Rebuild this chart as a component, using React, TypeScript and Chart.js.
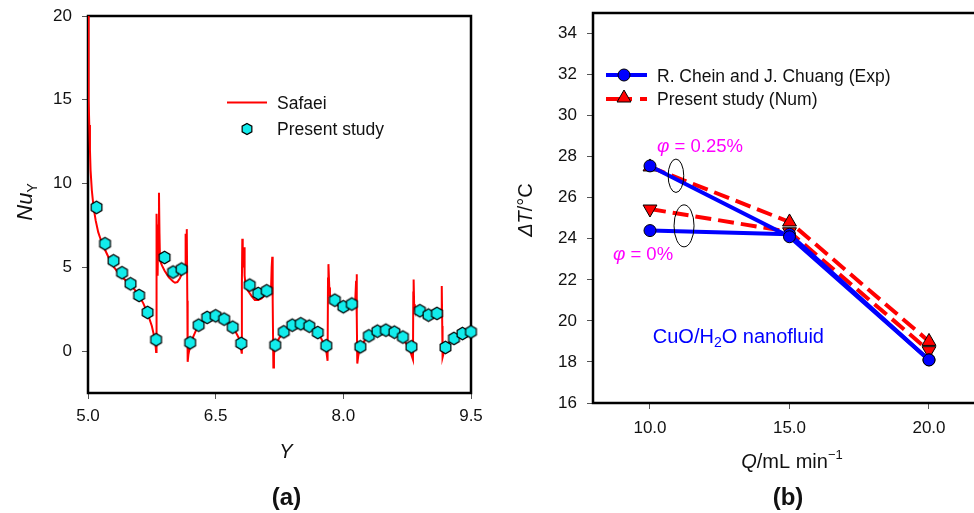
import React, { useEffect, useRef } from 'react';
import { Chart, registerables } from 'chart.js';

Chart.register(...registerables);

const FF = '"Liberation Sans", Arial, Helvetica, sans-serif';

// ---------------- Panel (a) data ----------------
const safaeiY = [
  5.0, 5.005, 5.01, 5.015, 5.023, 5.03, 5.045, 5.065, 5.09, 5.12, 5.16, 5.2, 5.25, 5.3, 5.35, 5.4, 5.45, 5.5, 5.55, 5.6, 5.65, 5.7, 5.75, 5.79, 5.80,
  5.804, 5.807, 5.812, 5.818, 5.826, 5.834, 5.84, 5.846,
  5.87, 5.9, 5.95, 6.0, 6.022, 6.05, 6.08, 6.1, 6.13, 6.14,
  6.147, 6.153, 6.158, 6.163, 6.167, 6.171, 6.18, 6.19,
  6.21, 6.237, 6.27, 6.3, 6.35, 6.4, 6.45, 6.5, 6.55, 6.6, 6.65, 6.7, 6.74, 6.77, 6.79, 6.805,
  6.808, 6.813, 6.818, 6.825, 6.833, 6.84, 6.852,
  6.88, 6.92, 6.96, 7.0, 7.04, 7.08, 7.12, 7.15,
  7.158, 7.165, 7.17, 7.178, 7.185, 7.19,
  7.22, 7.25, 7.294, 7.34, 7.39, 7.44, 7.49, 7.54, 7.6, 7.65, 7.7, 7.74, 7.77, 7.8, 7.815,
  7.82, 7.823, 7.827, 7.835, 7.843,
  7.87, 7.9, 7.94, 7.98, 8.02, 8.06, 8.1, 8.14,
  8.15, 8.156, 8.16, 8.164, 8.175, 8.195,
  8.24, 8.293, 8.34, 8.391, 8.44, 8.493, 8.54, 8.594, 8.64, 8.696, 8.74, 8.782, 8.818,
  8.822, 8.826, 8.832, 8.84,
  8.861, 8.9, 8.95, 8.994, 9.04, 9.076, 9.12, 9.15,
  9.155, 9.158, 9.162, 9.166, 9.18, 9.194,
  9.24, 9.296, 9.34, 9.393, 9.44, 9.491, 9.5,
];
const safaeiNu = [
  20, 17, 15, 13.5, 12, 10.8, 9.6, 8.6, 7.8, 7.1, 6.5, 6.05, 5.5, 5.05, 4.7, 4.42, 4.18, 3.95, 3.65, 3.3, 2.85, 2.25, 1.5, 0.6, -0.05,
  6.0, 8.2, 6.5, 4.5, 7.5, 9.45, 7.0, 5.4,
  5.1, 4.8, 4.4, 4.15, 4.08, 4.12, 4.35, 4.6, 4.8, 5.0,
  7.0, 5.5, 6.5, 7.28, 3.0, -0.64, -0.2, 0.06,
  0.4, 0.86, 1.25, 1.55, 1.85, 2.05, 2.15, 2.17, 2.1, 1.95, 1.72, 1.42, 1.1, 0.8, 0.4, -0.1,
  4.0, 6.7, 5.0, 5.5, 6.2, 4.5, 3.9,
  3.6, 3.3, 3.05, 3.05, 3.15, 3.35, 3.5, 3.6,
  5.0, 5.63, 3.0, -0.98, -0.3, 0.2,
  0.55, 0.8, 1.05, 1.3, 1.5, 1.62, 1.66, 1.62, 1.5, 1.3, 1.05, 0.75, 0.45, 0.0, -0.58,
  4.4, 3.5, 5.19, 3.8, 3.3,
  3.15, 3.0, 2.7, 2.5, 2.55, 2.7, 2.85, 3.0,
  4.2, 4.58, 2.0, -0.74, -0.3, 0.16,
  0.55, 0.9, 1.1, 1.25, 1.33, 1.35, 1.3, 1.15, 0.98, 0.72, 0.45, 0.06, -0.5,
  3.5, 4.28, 2.8, 2.6,
  2.5, 2.3, 2.15, 2.1, 2.15, 2.25, 2.35, 2.5,
  3.5, 3.88, 1.5, -0.38, -0.1, 0.16,
  0.5, 0.76, 0.95, 1.09, 1.17, 1.21, 1.22,
];
const presentY = [
  5.1, 5.2, 5.3, 5.4, 5.5, 5.6, 5.7, 5.8, 5.9, 6.0,
  6.1, 6.2, 6.3, 6.4, 6.5, 6.6, 6.7, 6.8, 6.9, 7.0,
  7.1, 7.2, 7.3, 7.4, 7.5, 7.6, 7.7, 7.8, 7.9, 8.0,
  8.1, 8.2, 8.3, 8.4, 8.5, 8.6, 8.7, 8.8, 8.9, 9.0,
  9.1, 9.2, 9.3, 9.4, 9.5,
];
const presentNu = [
  8.58, 6.41, 5.39, 4.68, 4.02, 3.32, 2.31, 0.68, 5.59, 4.72,
  4.90, 0.50, 1.55, 2.01, 2.11, 1.91, 1.43, 0.46, 3.94, 3.44,
  3.60, 0.36, 1.15, 1.55, 1.63, 1.49, 1.11, 0.32, 3.04, 2.65,
  2.81, 0.26, 0.91, 1.19, 1.25, 1.13, 0.84, 0.26, 2.41, 2.15,
  2.25, 0.22, 0.76, 1.05, 1.15,
];
const aXTicks = [5.0, 6.5, 8.0, 9.5];
const aYTicks = [0, 5, 10, 15, 20];

// ---------------- Panel (b) data ----------------
const flowQ = [10, 15, 20];
const expPhi025 = [27.55, 24.1, 18.1];
const expPhi0 = [24.4, 24.22, 18.1];
const numPhi025 = [27.5, 24.82, 19.0];
const numPhi0 = [25.45, 24.34, 18.55];
const bXTicks = [10, 15, 20];
const bYTicks = [16, 18, 20, 22, 24, 26, 28, 30, 32, 34];
const B_X_MIN = 7.957;
const B_PX_PER_UNIT = 27.9; // horizontal scale of panel (b), pixels per mL/min

// annotation anchors (data coordinates of panel b)
const phi025Label = { q: 10.25, dT: 28.5 };
const phi0Label = { q: 8.67, dT: 23.2 };
const nanoLabel = { q: 10.1, dT: 19.2 };
const ellipse025 = { q: 10.93, dT: 27.07 };
const ellipse0 = { q: 11.22, dT: 24.63 };

const RED = '#ff0000';
const BLUE = '#0000ff';
const CYAN = '#12ecec';
const MAGENTA = '#ff00ff';

type Run = { t: string; size: number; style?: string; dy?: number; color?: string };

function fontOf(r: Run) {
  return `${r.style ?? ''} ${r.size}px ${FF}`;
}

function drawRuns(
  ctx: CanvasRenderingContext2D,
  runs: Run[],
  x: number,
  y: number,
  align: 'left' | 'center',
  color: string,
  rot = 0
) {
  ctx.save();
  ctx.translate(x, y);
  if (rot) ctx.rotate(rot);
  ctx.textBaseline = 'middle';
  ctx.textAlign = 'left';
  let total = 0;
  const widths = runs.map((r) => {
    ctx.font = fontOf(r);
    const w = ctx.measureText(r.t).width;
    total += w;
    return w;
  });
  let cx = align === 'center' ? -total / 2 : 0;
  runs.forEach((r, i) => {
    ctx.font = fontOf(r);
    ctx.fillStyle = r.color ?? color;
    ctx.fillText(r.t, cx, r.dy ?? 0);
    cx += widths[i];
  });
  ctx.restore();
}

function makeHex(r: number): HTMLCanvasElement {
  const s = Math.ceil(2 * r + 4);
  const c = document.createElement('canvas');
  c.width = s;
  c.height = s;
  const g = c.getContext('2d')!;
  g.beginPath();
  for (let k = 0; k < 6; k++) {
    const a = -Math.PI / 2 + (k * Math.PI) / 3;
    const px = s / 2 + r * Math.cos(a);
    const py = s / 2 + r * Math.sin(a);
    if (k === 0) g.moveTo(px, py);
    else g.lineTo(px, py);
  }
  g.closePath();
  g.fillStyle = CYAN;
  g.fill();
  g.lineWidth = 1.2;
  g.strokeStyle = '#000';
  g.stroke();
  return c;
}

function drawTri(ctx: CanvasRenderingContext2D, x: number, y: number, r: number, down: boolean) {
  ctx.save();
  ctx.translate(x, y);
  if (down) ctx.rotate(Math.PI);
  ctx.beginPath();
  for (let k = 0; k < 3; k++) {
    const a = (k * 2 * Math.PI) / 3;
    const px = Math.sin(a) * r;
    const py = -Math.cos(a) * r;
    if (k === 0) ctx.moveTo(px, py);
    else ctx.lineTo(px, py);
  }
  ctx.closePath();
  ctx.fillStyle = RED;
  ctx.fill();
  ctx.lineWidth = 1;
  ctx.strokeStyle = '#000';
  ctx.stroke();
  ctx.restore();
}

const tickFont = { family: FF, size: 17 };

function axisCommon() {
  return {
    type: 'linear' as const,
    grid: { display: true, drawOnChartArea: false, drawTicks: true, tickLength: 6, color: '#555', lineWidth: 1 },
    border: { display: false },
  };
}

function fixX(h: number) {
  return (s: any) => {
    s.height = h;
    s.paddingLeft = 0;
    s.paddingRight = 0;
    s.paddingTop = 0;
    s.paddingBottom = 0;
  };
}
function fixY(w: number) {
  return (s: any) => {
    s.width = w;
    s.paddingLeft = 0;
    s.paddingRight = 0;
    s.paddingTop = 0;
    s.paddingBottom = 0;
  };
}

export default function App() {
  const refA = useRef<HTMLCanvasElement>(null);
  const refB = useRef<HTMLCanvasElement>(null);

  useEffect(() => {
    const hex = makeHex(6.2);
    const hexLegend = makeHex(5.6);

    const pluginA = {
      id: 'panelA',
      beforeDatasetsDraw(chart: any) {
        const { ctx, chartArea: ca } = chart;
        ctx.save();
        ctx.strokeStyle = '#000';
        ctx.lineWidth = 2.5;
        ctx.strokeRect(ca.left, ca.top, ca.right - ca.left, ca.bottom - ca.top);
        ctx.restore();
      },
      afterDraw(chart: any) {
        const { ctx, chartArea: ca } = chart;
        // legend
        ctx.save();
        ctx.strokeStyle = RED;
        ctx.lineWidth = 2;
        ctx.beginPath();
        ctx.moveTo(ca.left + 139, ca.top + 86.5);
        ctx.lineTo(ca.left + 179, ca.top + 86.5);
        ctx.stroke();
        ctx.drawImage(hexLegend, ca.left + 159 - hexLegend.width / 2, ca.top + 113 - hexLegend.height / 2);
        ctx.restore();
        drawRuns(ctx, [{ t: 'Safaei', size: 17.5 }], ca.left + 189, ca.top + 88.5, 'left', '#111');
        drawRuns(ctx, [{ t: 'Present study', size: 17.5 }], ca.left + 189, ca.top + 114, 'left', '#111');
        // axis titles
        drawRuns(ctx, [{ t: 'Y', size: 20, style: 'italic' }], 286, 452, 'center', '#111');
        drawRuns(ctx, [{ t: '(a)', size: 24, style: 'bold' }], 286.5, 498, 'center', '#111');
        drawRuns(
          ctx,
          [
            { t: 'Nu', size: 22, style: 'italic' },
            { t: 'Y', size: 14, dy: 7 },
          ],
          26,
          202,
          'center',
          '#111',
          -Math.PI / 2
        );
      },
    };

    const chartA = new Chart(refA.current!, {
      type: 'scatter',
      data: {
        datasets: [
          {
            label: 'Present study',
            data: presentY.map((x, i) => ({ x, y: presentNu[i] })),
            pointStyle: hex as any,
            pointRadius: 6,
            showLine: false,
            clip: false as any,
          },
          {
            label: 'Safaei',
            data: safaeiY.map((x, i) => ({ x, y: safaeiNu[i] })),
            showLine: true,
            borderColor: RED,
            borderWidth: 2,
            pointRadius: 0,
            tension: 0,
          },
        ],
      },
      options: {
        animation: false,
        responsive: false,
        maintainAspectRatio: false,
        layout: { padding: { top: 16, right: 16, left: 0, bottom: 0 } },
        plugins: { legend: { display: false }, tooltip: { enabled: false } },
        scales: {
          x: {
            ...axisCommon(),
            min: 5,
            max: 9.5,
            afterBuildTicks: (s: any) => {
              s.ticks = aXTicks.map((v) => ({ value: v }));
            },
            afterFit: fixX(120),
            ticks: {
              font: tickFont,
              color: '#111',
              padding: 7,
              maxRotation: 0,
              autoSkip: false,
              callback: (v: any) => Number(v).toFixed(1),
            },
          },
          y: {
            ...axisCommon(),
            min: -2.5,
            max: 20,
            afterBuildTicks: (s: any) => {
              s.ticks = aYTicks.map((v) => ({ value: v }));
            },
            afterFit: fixY(88),
            ticks: { font: tickFont, color: '#111', padding: 10, autoSkip: false, callback: (v: any) => String(v) },
          },
        },
      } as any,
      plugins: [pluginA],
    });

    const pluginB = {
      id: 'panelB',
      beforeDatasetsDraw(chart: any) {
        const { ctx, chartArea: ca } = chart;
        ctx.save();
        ctx.strokeStyle = '#000';
        ctx.lineWidth = 2.5;
        ctx.beginPath();
        ctx.moveTo(chart.width + 2, ca.top);
        ctx.lineTo(ca.left, ca.top);
        ctx.lineTo(ca.left, ca.bottom);
        ctx.lineTo(chart.width + 2, ca.bottom);
        ctx.stroke();
        ctx.restore();
      },
      afterDatasetsDraw(chart: any) {
        const { ctx, chartArea: ca, scales } = chart;
        const xs = scales.x;
        const ys = scales.y;
        // ellipses
        ctx.save();
        ctx.strokeStyle = '#000';
        ctx.lineWidth = 1;
        ctx.beginPath();
        ctx.ellipse(xs.getPixelForValue(ellipse025.q), ys.getPixelForValue(ellipse025.dT), 7.8, 16.7, 0, 0, Math.PI * 2);
        ctx.stroke();
        ctx.beginPath();
        ctx.ellipse(xs.getPixelForValue(ellipse0.q), ys.getPixelForValue(ellipse0.dT), 10, 21, 0, 0, Math.PI * 2);
        ctx.stroke();
        ctx.restore();
        // annotations
        drawRuns(
          ctx,
          [
            { t: 'φ', size: 19, style: 'italic' },
            { t: ' = 0.25%', size: 18.5 },
          ],
          xs.getPixelForValue(phi025Label.q),
          ys.getPixelForValue(phi025Label.dT),
          'left',
          MAGENTA
        );
        drawRuns(
          ctx,
          [
            { t: 'φ', size: 19, style: 'italic' },
            { t: ' = 0%', size: 18.5 },
          ],
          xs.getPixelForValue(phi0Label.q),
          ys.getPixelForValue(phi0Label.dT),
          'left',
          MAGENTA
        );
        drawRuns(
          ctx,
          [
            { t: 'CuO/H', size: 20 },
            { t: '2', size: 14, dy: 6 },
            { t: 'O nanofluid', size: 20 },
          ],
          xs.getPixelForValue(nanoLabel.q),
          ys.getPixelForValue(nanoLabel.dT),
          'left',
          BLUE
        );
        // legend
        const lx = ca.left + 13;
        ctx.save();
        ctx.lineWidth = 4;
        ctx.strokeStyle = BLUE;
        ctx.beginPath();
        ctx.moveTo(lx, ca.top + 62);
        ctx.lineTo(lx + 41, ca.top + 62);
        ctx.stroke();
        ctx.beginPath();
        ctx.arc(lx + 18, ca.top + 62, 6, 0, Math.PI * 2);
        ctx.fillStyle = BLUE;
        ctx.fill();
        ctx.lineWidth = 1;
        ctx.strokeStyle = '#000';
        ctx.stroke();
        ctx.lineWidth = 4;
        ctx.strokeStyle = RED;
        ctx.setLineDash([26, 8]);
        ctx.beginPath();
        ctx.moveTo(lx, ca.top + 86);
        ctx.lineTo(lx + 41, ca.top + 86);
        ctx.stroke();
        ctx.setLineDash([]);
        ctx.restore();
        drawTri(ctx, lx + 18, ca.top + 85, 8, false);
        drawRuns(ctx, [{ t: 'R. Chein and J. Chuang (Exp)', size: 17.5 }], lx + 51, ca.top + 64, 'left', '#111');
        drawRuns(ctx, [{ t: 'Present study (Num)', size: 17.5 }], lx + 51, ca.top + 87, 'left', '#111');
      },
      afterDraw(chart: any) {
        const { ctx } = chart;
        // titles (canvas B starts at page x = 487)
        drawRuns(
          ctx,
          [
            { t: 'Q', size: 20, style: 'italic' },
            { t: '/mL min', size: 20 },
            { t: '−1', size: 13, dy: -7 },
          ],
          305,
          462,
          'center',
          '#111'
        );
        drawRuns(ctx, [{ t: '(b)', size: 24, style: 'bold' }], 301, 498, 'center', '#111');
        drawRuns(
          ctx,
          [
            { t: 'ΔT', size: 20, style: 'italic' },
            { t: '/°C', size: 20 },
          ],
          39,
          210,
          'center',
          '#111',
          -Math.PI / 2
        );
      },
    };

    const chartB = new Chart(refB.current!, {
      type: 'scatter',
      data: {
        datasets: [
          {
            label: 'R. Chein and J. Chuang (Exp) φ = 0.25%',
            data: flowQ.map((x, i) => ({ x, y: expPhi025[i] })),
            showLine: true,
            borderColor: BLUE,
            borderWidth: 4,
            pointStyle: 'circle',
            pointRadius: 6,
            pointBackgroundColor: BLUE,
            pointBorderColor: '#000',
            pointBorderWidth: 1,
            clip: false as any,
          },
          {
            label: 'R. Chein and J. Chuang (Exp) φ = 0%',
            data: flowQ.map((x, i) => ({ x, y: expPhi0[i] })),
            showLine: true,
            borderColor: BLUE,
            borderWidth: 4,
            pointStyle: 'circle',
            pointRadius: 6,
            pointBackgroundColor: BLUE,
            pointBorderColor: '#000',
            pointBorderWidth: 1,
            clip: false as any,
          },
          {
            label: 'Present study (Num) φ = 0.25%',
            data: flowQ.map((x, i) => ({ x, y: numPhi025[i] })),
            showLine: true,
            borderColor: RED,
            borderWidth: 4,
            borderDash: [16, 7],
            pointStyle: 'triangle',
            pointRadius: 8,
            pointBackgroundColor: RED,
            pointBorderColor: '#000',
            pointBorderWidth: 1,
            clip: false as any,
          },
          {
            label: 'Present study (Num) φ = 0%',
            data: flowQ.map((x, i) => ({ x, y: numPhi0[i] })),
            showLine: true,
            borderColor: RED,
            borderWidth: 4,
            borderDash: [16, 7],
            pointStyle: 'triangle',
            pointRotation: 180,
            pointRadius: 8,
            pointBackgroundColor: RED,
            pointBorderColor: '#000',
            pointBorderWidth: 1,
            clip: false as any,
          },
        ],
      },
      options: {
        animation: false,
        responsive: false,
        maintainAspectRatio: false,
        layout: { padding: { top: 13, right: 0, left: 0, bottom: 0 } },
        plugins: { legend: { display: false }, tooltip: { enabled: false } },
        scales: {
          x: {
            ...axisCommon(),
            min: B_X_MIN,
            max: 21.43,
            afterBuildTicks: (s: any) => {
              s.ticks = bXTicks.map((v) => ({ value: v }));
            },
            afterFit: fixX(110),
            ticks: {
              font: tickFont,
              color: '#111',
              padding: 9,
              maxRotation: 0,
              autoSkip: false,
              callback: (v: any) => Number(v).toFixed(1),
            },
          },
          y: {
            ...axisCommon(),
            min: 16,
            max: 35,
            afterBuildTicks: (s: any) => {
              s.ticks = bYTicks.map((v) => ({ value: v }));
            },
            afterFit: fixY(106),
            ticks: { font: tickFont, color: '#111', padding: 10, autoSkip: false, callback: (v: any) => String(v) },
          },
        },
      } as any,
      plugins: [pluginB],
    });

    // keep a fixed horizontal scale for panel (b) whatever width the layout leaves
    const caB = chartB.chartArea;
    (chartB.options as any).scales.x.max = B_X_MIN + (caB.right - caB.left) / B_PX_PER_UNIT;
    chartB.update();

    return () => {
      chartA.destroy();
      chartB.destroy();
    };
  }, []);

  return (
    <div style={{ position: 'absolute', left: 0, top: 0, width: 974, height: 513, background: '#fff', overflow: 'hidden' }}>
      <canvas
        ref={refA}
        width={487}
        height={513}
        style={{ position: 'absolute', left: 0, top: 0, width: 487, height: 513 }}
      />
      <canvas
        ref={refB}
        width={487}
        height={513}
        style={{ position: 'absolute', left: 487, top: 0, width: 487, height: 513 }}
      />
    </div>
  );
}
